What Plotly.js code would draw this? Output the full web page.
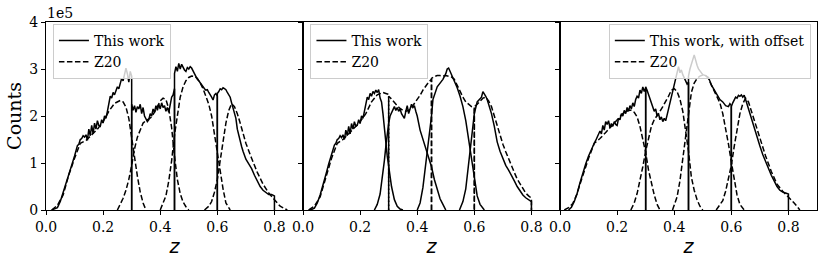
<!DOCTYPE html>
<html><head><meta charset="utf-8">
<script src="https://cdn.plot.ly/plotly-3.0.1.min.js"></script>
<style>body{margin:0;background:#fff}</style></head>
<body><div id="chart" style="width:830px;height:261px"></div>
<script>
// Values are counts in units of 1e5, z = redshift
// ---------- Panel 1: "This work" (cut bins, solid) ----------
const p1_w1_z = [0.02,0.03,0.04,0.05,0.06,0.07,0.08,0.09,0.10,0.105,0.11,0.115,0.12,0.125,0.13,0.135,0.14,0.145,0.15,0.155,0.16,0.165,0.17,0.175,0.18,0.185,0.19,0.195,0.20,0.205,0.21,0.215,0.22,0.225,0.23,0.235,0.24,0.245,0.25,0.255,0.26,0.265,0.27,0.275,0.28,0.285,0.29,0.295,0.30,0.30];
const p1_w1_v = [0,0.02,0.05,0.18,0.36,0.55,0.72,0.95,1.15,1.28,1.37,1.40,1.50,1.52,1.58,1.55,1.60,1.48,1.72,1.58,1.80,1.62,1.85,1.72,1.90,1.80,1.78,1.92,1.85,2.0,1.95,2.1,2.25,2.42,2.38,2.50,2.45,2.55,2.62,2.58,2.72,2.80,2.75,2.92,3.02,2.90,2.72,2.95,2.85,0];
const p1_w2_z = [0.30,0.30,0.305,0.31,0.315,0.32,0.325,0.33,0.335,0.34,0.345,0.35,0.355,0.36,0.365,0.37,0.375,0.38,0.385,0.39,0.395,0.40,0.405,0.41,0.415,0.42,0.425,0.43,0.435,0.44,0.445,0.45,0.45];
const p1_w2_v = [0,2.25,2.12,2.22,2.08,2.20,2.15,2.25,2.05,2.18,2.0,1.95,1.88,1.92,2.05,2.0,2.15,2.08,2.22,2.12,2.25,2.15,2.28,2.18,2.22,2.10,2.18,2.08,2.25,2.40,2.45,2.58,0];
const p1_w3_z = [0.45,0.45,0.455,0.46,0.465,0.47,0.475,0.48,0.485,0.49,0.495,0.50,0.505,0.51,0.515,0.52,0.525,0.53,0.535,0.54,0.545,0.55,0.555,0.56,0.565,0.57,0.575,0.58,0.585,0.59,0.595,0.60,0.60];
const p1_w3_v = [0,2.9,3.05,2.95,3.12,3.0,3.10,3.02,2.98,2.95,3.03,3.0,3.05,3.02,2.95,2.88,2.85,2.78,2.75,2.70,2.66,2.62,2.58,2.55,2.56,2.50,2.46,2.40,2.34,2.45,2.48,2.42,0];
const p1_w4_z = [0.60,0.60,0.605,0.61,0.615,0.62,0.625,0.63,0.635,0.64,0.645,0.65,0.655,0.66,0.665,0.67,0.675,0.68,0.685,0.69,0.695,0.70,0.71,0.72,0.73,0.74,0.75,0.76,0.77,0.78,0.79,0.80,0.80];
const p1_w4_v = [0,2.48,2.52,2.58,2.56,2.60,2.58,2.56,2.50,2.45,2.40,2.28,2.18,2.05,1.95,1.72,1.58,1.48,1.35,1.25,1.15,1.08,0.98,0.88,0.74,0.62,0.50,0.42,0.38,0.33,0.33,0.30,0];
// ---------- Panel 1: Z20 (smooth, dashed) ----------
const p1_d1_z = [0.02,0.04,0.06,0.08,0.10,0.12,0.14,0.16,0.18,0.20,0.22,0.24,0.26,0.27,0.28,0.29,0.30,0.31,0.32,0.33,0.34,0.35];
const p1_d1_v = [0,0.10,0.32,0.75,1.10,1.42,1.48,1.60,1.72,1.88,2.10,2.27,2.33,2.30,2.19,1.95,1.50,1.10,0.72,0.38,0.15,0];
const p1_d2_z = [0.25,0.27,0.28,0.29,0.30,0.31,0.32,0.33,0.34,0.35,0.36,0.37,0.38,0.39,0.40,0.41,0.42,0.43,0.44,0.45,0.46,0.47,0.48,0.49,0.50];
const p1_d2_v = [0,0.25,0.42,0.65,0.95,1.30,1.55,1.72,1.85,1.90,1.94,1.98,2.08,2.20,2.32,2.38,2.35,2.15,1.75,1.15,0.65,0.35,0.17,0.07,0];
const p1_d3_z = [0.40,0.42,0.43,0.44,0.45,0.46,0.47,0.48,0.49,0.50,0.51,0.52,0.53,0.54,0.55,0.56,0.57,0.58,0.59,0.60,0.61,0.62,0.63,0.64,0.645];
const p1_d3_v = [0,0.30,0.62,1.05,1.60,2.05,2.40,2.62,2.75,2.82,2.85,2.84,2.80,2.70,2.58,2.42,2.25,2.0,1.6,1.2,0.8,0.45,0.15,0.04,0];
const p1_d4_z = [0.555,0.57,0.58,0.59,0.60,0.61,0.62,0.63,0.64,0.65,0.66,0.67,0.68,0.69,0.70,0.72,0.74,0.76,0.78,0.80,0.82,0.845];
const p1_d4_v = [0,0.08,0.18,0.38,0.65,1.05,1.45,1.85,2.12,2.26,2.20,2.05,1.85,1.62,1.42,1.10,0.80,0.55,0.36,0.22,0.08,0];

// ---------- Panel 2: "This work" (smooth, solid) ----------
const p2_s1_z = [0.02,0.03,0.04,0.05,0.06,0.07,0.08,0.09,0.10,0.105,0.11,0.115,0.12,0.125,0.13,0.135,0.14,0.145,0.15,0.155,0.16,0.165,0.17,0.175,0.18,0.185,0.19,0.195,0.20,0.205,0.21,0.215,0.22,0.225,0.23,0.235,0.24,0.245,0.25,0.255,0.26,0.265,0.27,0.275,0.28,0.285,0.29,0.295,0.30,0.31,0.32,0.33,0.34,0.35];
const p2_s1_v = [0,0.01,0.04,0.15,0.32,0.52,0.75,0.98,1.18,1.30,1.38,1.42,1.50,1.52,1.58,1.54,1.60,1.50,1.70,1.58,1.78,1.62,1.84,1.72,1.88,1.78,1.80,1.92,1.84,2.0,1.95,2.1,2.25,2.40,2.35,2.48,2.42,2.52,2.48,2.55,2.50,2.56,2.38,2.30,2.05,1.80,1.45,1.15,0.90,0.50,0.22,0.08,0.02,0];
const p2_s2_z = [0.25,0.26,0.27,0.28,0.285,0.29,0.295,0.30,0.305,0.31,0.315,0.32,0.325,0.33,0.335,0.34,0.345,0.35,0.355,0.36,0.365,0.37,0.375,0.38,0.385,0.39,0.395,0.40,0.41,0.42,0.43,0.44,0.45,0.46,0.47,0.48,0.49,0.50];
const p2_s2_v = [0,0.12,0.34,0.75,1.05,1.35,1.62,1.85,2.0,2.08,2.15,2.20,2.12,2.18,2.10,2.15,2.05,2.00,1.95,2.10,2.22,2.05,2.15,2.25,2.18,2.22,2.10,2.0,1.70,1.50,1.32,1.15,0.92,0.65,0.42,0.24,0.12,0];
const p2_s3_z = [0.40,0.41,0.42,0.43,0.44,0.45,0.455,0.46,0.47,0.48,0.49,0.50,0.505,0.51,0.515,0.52,0.53,0.54,0.55,0.56,0.57,0.58,0.59,0.60,0.61,0.62,0.635];
const p2_s3_v = [0,0.15,0.48,0.95,1.45,2.0,2.35,2.45,2.62,2.70,2.78,2.90,3.0,3.02,2.95,2.90,2.75,2.60,2.42,2.20,1.90,1.48,1.05,0.62,0.30,0.12,0];
const p2_s4_z = [0.548,0.56,0.57,0.58,0.59,0.60,0.61,0.62,0.625,0.63,0.635,0.64,0.645,0.65,0.66,0.67,0.68,0.69,0.70,0.71,0.72,0.73,0.74,0.75,0.76,0.77,0.78,0.79,0.80,0.80];
const p2_s4_v = [0,0.18,0.45,0.95,1.50,2.05,2.30,2.38,2.40,2.52,2.48,2.42,2.35,2.25,2.05,1.78,1.45,1.25,1.08,0.95,0.85,0.72,0.62,0.50,0.40,0.32,0.26,0.22,0.18,0];
// ---------- Panel 2: Z20 (cut bins, dashed) ----------
const p2_d1_z = [0.02,0.04,0.06,0.08,0.10,0.12,0.14,0.16,0.18,0.20,0.22,0.24,0.26,0.28,0.29,0.30,0.30];
const p2_d1_v = [0,0.08,0.28,0.70,1.10,1.42,1.50,1.62,1.75,1.88,2.05,2.30,2.45,2.50,2.48,2.46,0];
const p2_d2_z = [0.30,0.30,0.31,0.32,0.33,0.34,0.35,0.36,0.37,0.38,0.39,0.40,0.41,0.42,0.43,0.44,0.45,0.45];
const p2_d2_v = [0,2.42,2.36,2.28,2.22,2.16,2.12,2.10,2.12,2.18,2.26,2.34,2.44,2.55,2.65,2.72,2.78,0];
const p2_d3_z = [0.45,0.45,0.46,0.47,0.48,0.49,0.50,0.51,0.52,0.53,0.54,0.55,0.56,0.57,0.58,0.59,0.60,0.60];
const p2_d3_v = [0,2.80,2.84,2.86,2.86,2.85,2.86,2.85,2.83,2.78,2.65,2.52,2.40,2.30,2.24,2.20,2.18,0];
const p2_d4_z = [0.60,0.60,0.61,0.62,0.63,0.64,0.65,0.66,0.67,0.68,0.69,0.70,0.71,0.72,0.73,0.74,0.75,0.76,0.77,0.78,0.79,0.80,0.80];
const p2_d4_v = [0,2.20,2.25,2.32,2.38,2.40,2.32,2.20,2.00,1.80,1.58,1.40,1.24,1.08,0.95,0.80,0.66,0.55,0.45,0.36,0.30,0.25,0];

// ---------- Panel 3: "This work, with offset" (cut bins, solid) ----------
const p3_w1_z = [0.03,0.04,0.05,0.06,0.07,0.08,0.09,0.10,0.11,0.12,0.125,0.13,0.135,0.14,0.145,0.15,0.155,0.16,0.165,0.17,0.175,0.18,0.185,0.19,0.195,0.20,0.205,0.21,0.215,0.22,0.225,0.23,0.235,0.24,0.245,0.25,0.255,0.26,0.265,0.27,0.275,0.28,0.285,0.29,0.295,0.30,0.30];
const p3_w1_v = [0,0.06,0.18,0.35,0.58,0.80,0.98,1.15,1.30,1.42,1.48,1.56,1.60,1.68,1.62,1.80,1.70,1.88,1.82,1.90,1.75,1.84,1.78,1.88,1.82,1.80,1.95,1.92,2.05,2.00,2.12,2.05,2.18,2.10,2.22,2.15,2.28,2.20,2.35,2.42,2.38,2.55,2.48,2.62,2.52,2.60,0];
const p3_w2_z = [0.30,0.30,0.305,0.31,0.315,0.32,0.325,0.33,0.335,0.34,0.345,0.35,0.355,0.36,0.365,0.37,0.375,0.38,0.385,0.39,0.395,0.40,0.405,0.41,0.415,0.42,0.425,0.43,0.435,0.44,0.445,0.45,0.45];
const p3_w2_v = [0,2.62,2.55,2.45,2.38,2.25,2.20,2.10,2.15,2.00,2.05,1.92,1.98,1.88,1.95,1.90,2.02,2.15,2.30,2.45,2.58,2.72,2.85,2.95,3.05,2.92,2.98,2.88,2.80,2.74,2.68,2.72,0];
const p3_w3_z = [0.45,0.45,0.455,0.46,0.465,0.47,0.475,0.48,0.485,0.49,0.495,0.50,0.51,0.52,0.53,0.54,0.55,0.56,0.57,0.58,0.59,0.595,0.60,0.60];
const p3_w3_v = [0,2.85,3.0,3.08,3.20,3.30,3.15,3.08,3.0,2.96,2.92,2.88,2.86,2.82,2.66,2.55,2.45,2.35,2.30,2.22,2.20,2.26,2.22,0];
const p3_w4_z = [0.60,0.60,0.605,0.61,0.615,0.62,0.625,0.63,0.635,0.64,0.645,0.65,0.655,0.66,0.67,0.68,0.69,0.70,0.71,0.72,0.73,0.74,0.75,0.76,0.77,0.78,0.79,0.80,0.80];
const p3_w4_v = [0,2.20,2.28,2.35,2.40,2.38,2.44,2.42,2.45,2.40,2.44,2.35,2.25,2.12,1.92,1.72,1.55,1.36,1.18,1.02,0.88,0.74,0.62,0.50,0.42,0.38,0.36,0.34,0];
// ---------- Panel 3: Z20 (smooth, dashed) ----------
const p3_d1_z = [0.015,0.03,0.045,0.06,0.07,0.08,0.09,0.10,0.12,0.14,0.16,0.18,0.20,0.22,0.24,0.25,0.26,0.27,0.28,0.29,0.30,0.31,0.32,0.33,0.34,0.35];
const p3_d1_v = [0,0.05,0.14,0.35,0.55,0.75,0.92,1.10,1.42,1.52,1.65,1.78,1.92,2.05,2.12,2.12,2.08,1.98,1.78,1.52,1.22,0.85,0.55,0.32,0.12,0];
const p3_d2_z = [0.248,0.26,0.27,0.28,0.29,0.30,0.31,0.32,0.33,0.34,0.35,0.36,0.37,0.38,0.39,0.40,0.41,0.42,0.43,0.44,0.45,0.46,0.47,0.48,0.49,0.50];
const p3_d2_v = [0,0.15,0.35,0.62,0.92,1.25,1.55,1.78,1.92,2.00,2.10,2.20,2.30,2.42,2.55,2.58,2.52,2.36,2.10,1.72,1.25,0.70,0.42,0.22,0.08,0];
const p3_d3_z = [0.394,0.41,0.42,0.43,0.44,0.45,0.46,0.47,0.48,0.49,0.50,0.51,0.52,0.53,0.54,0.55,0.56,0.57,0.58,0.59,0.60,0.61,0.62,0.63,0.645];
const p3_d3_v = [0,0.28,0.62,1.10,1.60,2.05,2.50,2.70,2.80,2.85,2.87,2.86,2.80,2.66,2.52,2.40,2.28,2.05,1.75,1.40,1.02,0.62,0.32,0.12,0];
const p3_d4_z = [0.547,0.56,0.57,0.58,0.59,0.60,0.61,0.62,0.63,0.64,0.65,0.66,0.67,0.68,0.69,0.70,0.72,0.74,0.76,0.78,0.80,0.82,0.84];
const p3_d4_v = [0,0.1,0.2,0.40,0.65,0.95,1.35,1.70,2.05,2.26,2.38,2.30,2.10,1.92,1.75,1.55,1.15,0.82,0.55,0.40,0.28,0.15,0];

const legendNames = ["This work", "This work", "This work, with offset"];
const z20Name = "Z20";
const xTicks = [0.0, 0.2, 0.4, 0.6, 0.8];
const xTickText = ["0.0", "0.2", "0.4", "0.6", "0.8"];
const yTicks = [0, 1, 2, 3, 4];
const yTickText = ["0", "1", "2", "3", "4"];

const panels = [
  {solid: [[p1_w1_z,p1_w1_v],[p1_w2_z,p1_w2_v],[p1_w3_z,p1_w3_v],[p1_w4_z,p1_w4_v]],
   dash:  [[p1_d1_z,p1_d1_v],[p1_d2_z,p1_d2_v],[p1_d3_z,p1_d3_v],[p1_d4_z,p1_d4_v]]},
  {solid: [[p2_s1_z,p2_s1_v],[p2_s2_z,p2_s2_v],[p2_s3_z,p2_s3_v],[p2_s4_z,p2_s4_v]],
   dash:  [[p2_d1_z,p2_d1_v],[p2_d2_z,p2_d2_v],[p2_d3_z,p2_d3_v],[p2_d4_z,p2_d4_v]]},
  {solid: [[p3_w1_z,p3_w1_v],[p3_w2_z,p3_w2_v],[p3_w3_z,p3_w3_v],[p3_w4_z,p3_w4_v]],
   dash:  [[p3_d1_z,p3_d1_v],[p3_d2_z,p3_d2_v],[p3_d3_z,p3_d3_v],[p3_d4_z,p3_d4_v]]}
];

const traces = [];
panels.forEach((p, i) => {
  const xa = i === 0 ? 'x' : 'x' + (i + 1);
  const ya = i === 0 ? 'y' : 'y' + (i + 1);
  const lg = i === 0 ? 'legend' : 'legend' + (i + 1);
  p.solid.forEach((s, j) => traces.push({
    x: s[0], y: s[1], xaxis: xa, yaxis: ya, type: 'scatter', mode: 'lines',
    line: {color: '#000', width: 1.5}, name: legendNames[i], legend: lg,
    showlegend: j === 0, legendgroup: 'a' + i, hoverinfo: 'skip'
  }));
  p.dash.forEach((s, j) => traces.push({
    x: s[0], y: s[1], xaxis: xa, yaxis: ya, type: 'scatter', mode: 'lines',
    line: {color: '#000', width: 1.5, dash: '5.5px,2.5px'}, name: z20Name, legend: lg,
    showlegend: j === 0, legendgroup: 'b' + i, hoverinfo: 'skip'
  }));
});

const tickFont = {family: 'DejaVu Serif', size: 14, color: '#000'};
function xax(dom, anchor) {
  return {domain: dom, anchor: anchor, range: [0, 0.9], tickvals: xTicks, ticktext: xTickText,
    ticks: 'outside', ticklen: 4, tickwidth: 1, tickcolor: '#000', showline: true, linecolor: '#000',
    linewidth: 1, mirror: true, showgrid: false, zeroline: false, tickfont: tickFont,
    title: {text: 'z', font: {family: 'DejaVu Sans', size: 19, style: 'italic', color: '#000'}, standoff: 4}};
}
function yax(anchor, labels) {
  return {domain: [0, 1], anchor: anchor, range: [0, 4], tickvals: yTicks, ticktext: yTickText,
    ticks: 'outside', ticklen: 4, tickwidth: 1, tickcolor: '#000', showline: true, linecolor: '#000',
    linewidth: 1, mirror: true, showgrid: false, zeroline: false, tickfont: tickFont,
    showticklabels: labels};
}
const third = 1 / 3;
const legStyle = {bgcolor: 'rgba(255,255,255,0.8)', bordercolor: '#cccccc', borderwidth: 1,
  font: {family: 'DejaVu Serif', size: 14, color: '#000'}, yanchor: 'top', y: 0.99,
  tracegroupgap: 0, itemclick: false};

const layout = {
  width: 830, height: 261, margin: {l: 46, r: 13, t: 22, b: 51},
  paper_bgcolor: '#fff', plot_bgcolor: '#fff',
  xaxis: xax([0, third], 'y'),
  xaxis2: xax([third, 2 * third], 'y2'),
  xaxis3: xax([2 * third, 1], 'y3'),
  yaxis: Object.assign(yax('x', true), {title: {text: 'Counts', font: {family: 'DejaVu Serif', size: 19, color: '#000'}, standoff: 2}}),
  yaxis2: yax('x2', false),
  yaxis3: yax('x3', false),
  legend: Object.assign({}, legStyle, {x: 0.009, xanchor: 'left'}),
  legend2: Object.assign({}, legStyle, {x: 0.343, xanchor: 'left'}),
  legend3: Object.assign({}, legStyle, {x: 0.992, xanchor: 'right'}),
  annotations: [{text: '1e5', xref: 'paper', yref: 'paper', x: 0, y: 1, xanchor: 'left', yanchor: 'bottom',
    showarrow: false, font: {family: 'DejaVu Serif', size: 14, color: '#000'}, borderpad: 0}],
  showlegend: true
};

Plotly.newPlot('chart', traces, layout, {displayModeBar: false, staticPlot: true});
</script></body></html>
